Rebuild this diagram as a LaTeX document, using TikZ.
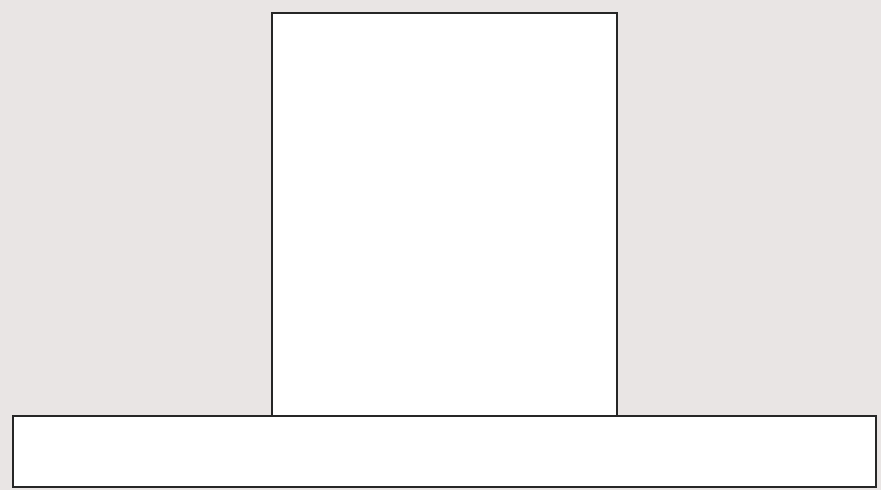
\documentclass[tikz,border=0pt]{standalone}
\usepackage{tikz}
\usetikzlibrary{positioning}
\definecolor{bggray}{RGB}{233,229,228}
\tikzset{block/.style = {rectangle,draw=black!85,line width=2.2pt,fill=white,inner sep=0pt}}

\begin{document}
\begin{tikzpicture}[x=1pt,y=-1pt]
        \fill [bggray] (0,0) rectangle (881,490);
        \useasboundingbox (0,0) rectangle (881,490);
        \begin{scope}
            \node [block, minimum width=345pt, minimum height=403pt] (post) at (444.5,214.5) {};
            \node [block, minimum width=863pt, minimum height=71pt] (base) at (444.5,451.5) {};
        \end{scope}
    \end{tikzpicture}
\end{document}
